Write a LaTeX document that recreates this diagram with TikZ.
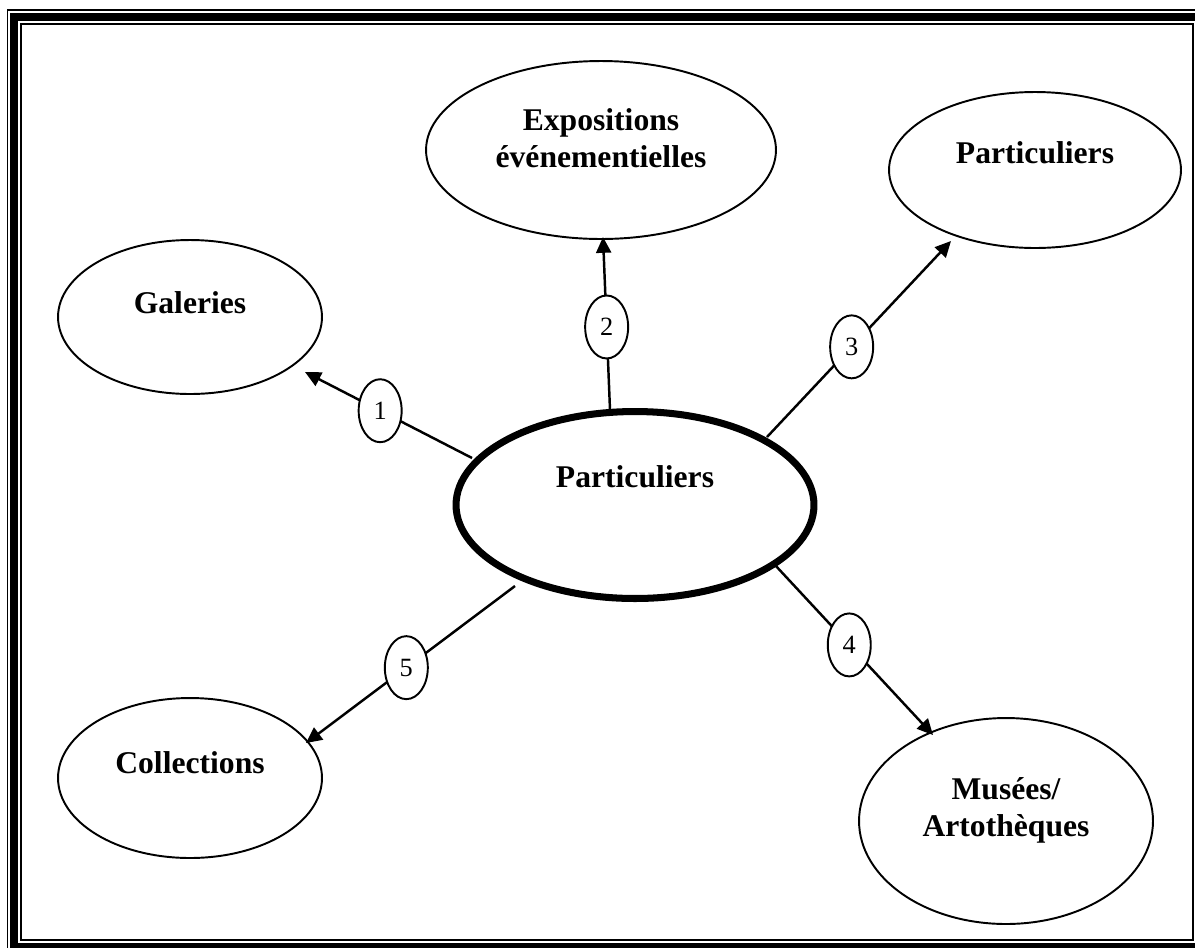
\documentclass[tikz,border=0pt]{standalone}
\usepackage{fontspec}
\setmainfont{Liberation Serif}
\usetikzlibrary{calc, positioning}
\usetikzlibrary{arrows.meta}
\usetikzlibrary{shapes.geometric}
\tikzset{
    bubble/.style = {
        draw, ellipse, line width=1.1pt, inner sep=0pt
    },
    bubbletext/.style = {
        font=\fontsize{18}{21}\selectfont\bfseries, align=center
    },
    numbox/.style = {
        draw, ellipse, fill=white, line width=1.1pt, inner sep=0pt,
        minimum width=0.86cm, minimum height=1.26cm, font=\fontsize{15}{18}\selectfont
    },
    link/.style = {
        line width=1.4pt, -{Triangle[length=9pt, width=8.5pt]}
    },
}

\begin{document}
\begin{tikzpicture}[x=0.02cm, y=-0.02cm]
        \useasboundingbox (0,0) rectangle (1195,947);
        % Draw the frame
        \begin{scope}
            \clip (0,0) rectangle (1195,947);
            \draw[line width=1.1pt] (7.5,10.3) rectangle (1207,954);
            \draw[line width=4.5pt] (14,17.3) rectangle (1200,947);
            \draw[line width=1.1pt] (21,24.3) rectangle (1193,940);
        \end{scope}

        % Place the ellipses
        \node[bubble, line width=4pt, minimum width=7.16cm, minimum height=3.74cm] (main) at (635,505) {};
        \node[bubble, minimum width=7.0cm, minimum height=3.56cm] (expo) at (601,150) {};
        \node[bubble, minimum width=5.84cm, minimum height=3.12cm] (part) at (1035,170) {};
        \node[bubble, minimum width=5.28cm, minimum height=3.08cm] (gal) at (190,317) {};
        \node[bubble, minimum width=5.28cm, minimum height=3.2cm] (coll) at (190,778) {};
        \node[bubble, minimum width=5.88cm, minimum height=4.12cm] (mus) at (1006,821) {};

        % Write the labels
        \node[bubbletext] (maintext) at ($(main)+(0,-28.5)$) {Particuliers};
        \node[bubbletext] (expotext) at ($(expo)+(0,-11.5)$) {Expositions\\événementielles};
        \node[bubbletext] (parttext) at ($(part)+(0,-17.5)$) {Particuliers};
        \node[bubbletext] (galtext) at ($(gal)+(0,-14.5)$) {Galeries};
        \node[bubbletext] (colltext) at ($(coll)+(0,-15)$) {Collections};
        \node[bubbletext] (mustext) at ($(mus)+(0,-11)$) {Musées/\\Artothèques};

        % Draw connections
        \coordinate (s1) at (472,458); \coordinate (t1) at (305,372);
        \coordinate (s2) at (610,410); \coordinate (t2) at (603,237);
        \coordinate (s3) at (767,437); \coordinate (t3) at (951,241);
        \coordinate (s4) at (775,565); \coordinate (t4) at (933,735);
        \coordinate (s5) at (515,586); \coordinate (t5) at (306,743);
        \draw[link] (s1) -- node[numbox, pos=0.55] (n1) {1} (t1);
        \draw[link] (s2) -- node[numbox, pos=0.48] (n2) {2} (t2);
        \draw[link] (s3) -- node[numbox, pos=0.46] (n3) {3} (t3);
        \draw[link] (s4) -- node[numbox, pos=0.47] (n4) {4} (t4);
        \draw[link] (s5) -- node[numbox, pos=0.52] (n5) {5} (t5);
    \end{tikzpicture}
\end{document}
